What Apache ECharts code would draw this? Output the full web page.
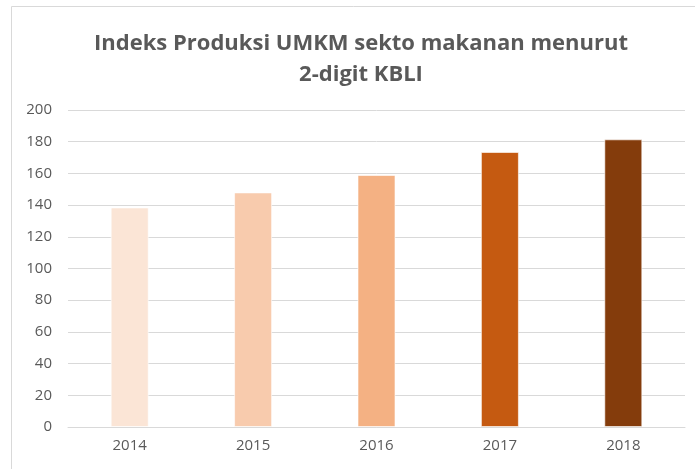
<!DOCTYPE html>
<html><head><meta charset="utf-8">
<script src="https://cdn.jsdelivr.net/npm/echarts@6/dist/echarts.min.js"></script>
<style>html,body{margin:0;padding:0;background:#fff}#c{width:695px;height:469px}</style>
</head><body><div id="c"></div>
<script>
const categories = ['2014','2015','2016','2017','2018'];
const values = [138.5, 148, 159, 173.5, 181.5];
const barColors = ['#FBE5D6','#F8CBAD','#F4B183','#C55A11','#843C0C'];
const yTicks = [0,20,40,60,80,100,120,140,160,180,200];
const titleText = 'Indeks Produksi UMKM sekto makanan menurut\n2-digit KBLI';

const chart = echarts.init(document.getElementById('c'));
chart.setOption({
  animation: false,
  graphic: [{type:'rect', shape:{x:11.5,y:6.5,width:690,height:470}, style:{fill:'none',stroke:'#d9d9d9',lineWidth:1}, silent:true}],
  title: {text: titleText, left: 356, top: 23, textAlign:'center',
    textStyle:{fontFamily:'Open Sans', fontWeight:700, fontSize:22, color:'#595959', lineHeight:31}},
  grid: {left:68, right:10, top:110, bottom:42},
  xAxis: {type:'category', data:categories,
    axisLine:{lineStyle:{color:'#d9d9d9'}}, axisTick:{show:false},
    axisLabel:{color:'#595959', fontFamily:'Open Sans', fontSize:15, margin:11}},
  yAxis: {type:'value', min:0, max:200, interval:20,
    axisLine:{show:false}, axisTick:{show:false},
    splitLine:{lineStyle:{color:'#d9d9d9'}},
    axisLabel:{color:'#595959', fontFamily:'Open Sans', fontSize:15, margin:16,
      formatter: v => yTicks.includes(v) ? String(v) : ''}},
  series: [{type:'bar', barWidth:38,
    data: values.map((v,i)=>({value:v, itemStyle:{color:barColors[i]}})),
    itemStyle:{borderColor:'rgba(255,255,255,0.6)', borderWidth:1}}]
});
</script></body></html>
